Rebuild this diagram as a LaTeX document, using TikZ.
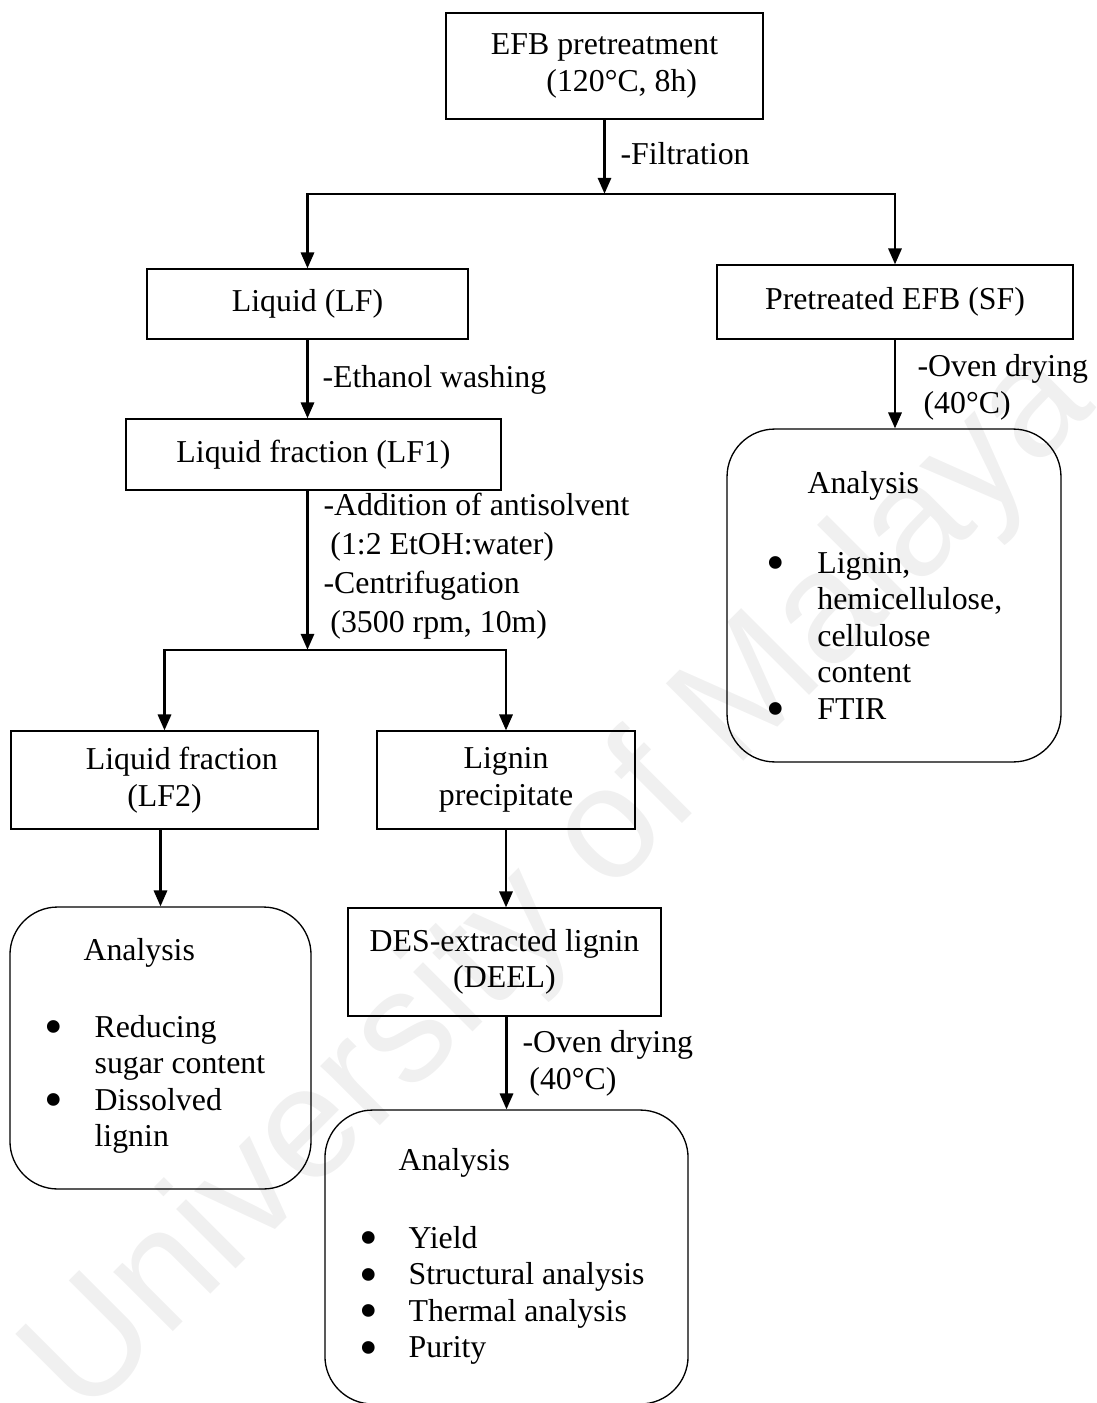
\documentclass[tikz,border=0pt]{standalone}
\usepackage{fontspec}
\setmainfont{Liberation Serif}
\newfontfamily\wmfont{Liberation Sans}
\usetikzlibrary{arrows.meta}
\newcommand{\bigbul}{\raisebox{-2.8pt}{\fontsize{20}{13.8}\selectfont\textbullet}}

\begin{document}
\begin{tikzpicture}[x=0.377pt, y=-0.377pt,
  every node/.style={font=\fontsize{12}{13.8}\selectfont},
  box/.style={draw, line width=0.5pt, inner sep=0pt, align=center},
  anbox/.style={draw, line width=0.5pt, rounded corners=18pt, inner sep=0pt},
  txt/.style={anchor=base west, inner sep=0pt},
  arr/.style={line width=0.9pt, -{Triangle[length=6pt,width=5pt]}},
  darr/.style={line width=0.9pt, {Triangle[length=6pt,width=5pt]}-{Triangle[length=6pt,width=5pt]}}]
  \useasboundingbox (0,0) rectangle (1096,1403);
  % Watermark
  \node[rotate=45, text=black!6, font=\wmfont\fontsize{60}{60}\selectfont] (wmark) at (562,885) {University of Malaya};
  % Process boxes
  \node[box, minimum width=119.5pt, minimum height=40pt] (efb) at (604.5,66) {EFB pretreatment\\\hspace*{13pt}(120°C, 8h)};
  \node[box, minimum width=121pt, minimum height=26.4pt] (lf) at (307.5,304) {Liquid (LF)};
  \node[box, minimum width=134.2pt, minimum height=27.9pt] (sf) at (895,302) {Pretreated EFB (SF)};
  \node[box, minimum width=141.4pt, minimum height=26.8pt] (lf1) at (313.5,454.5) {Liquid fraction (LF1)};
  \node[box, minimum width=115.7pt, minimum height=36.9pt] (lf2) at (164.5,780) {\hspace*{13pt}Liquid fraction\\(LF2)};
  \node[box, minimum width=97.3pt, minimum height=36.9pt] (lp) at (506,780) {Lignin\\precipitate};
  \node[box, minimum width=118pt, minimum height=40.7pt] (deel) at (504.5,962) {DES-extracted lignin\\(DEEL)};
  % Analysis boxes
  \node[anbox, minimum width=125.9pt, minimum height=125.5pt] (ansf) at (894,595.5) {};
  \node[anbox, minimum width=113.5pt, minimum height=106.3pt] (anlf) at (160.5,1048) {};
  \node[anbox, minimum width=136.9pt, minimum height=110.8pt] (andeel) at (506.5,1257) {};
  \node[txt] (ansfhd) at (807,493) {Analysis};
  \node[txt] (ansfls) at (765.7,573) {\begin{tabular}[t]{@{}p{19.3pt}@{}l@{}}
    \bigbul & Lignin,\\ & hemicellulose,\\ & cellulose\\ & content\\ \bigbul & FTIR\end{tabular}};
  \node[txt] (anlfhd) at (83,960) {Analysis};
  \node[txt] (anlfls) at (43.7,1037) {\begin{tabular}[t]{@{}p{19pt}@{}l@{}}
    \bigbul & Reducing\\ & sugar content\\ \bigbul & Dissolved\\ & lignin\end{tabular}};
  \node[txt] (andeelhd) at (398,1170) {Analysis};
  \node[txt] (andeells) at (358.7,1248) {\begin{tabular}[t]{@{}p{18.6pt}@{}l@{}}
    \bigbul & Yield\\ \bigbul & Structural analysis\\ \bigbul & Thermal analysis\\ \bigbul & Purity\end{tabular}};
  % Step labels (multi-line ones sit on their last baseline)
  \node[txt] (lblfilt) at (620,165) {-Filtration};
  \node[txt] (lbleth) at (322,388) {-Ethanol washing};
  \node[txt, align=left, font=\fontsize{12}{14.6}\selectfont] (lbladd) at (323,632)
    {-Addition of antisolvent\\\hspace*{2.6pt}(1:2 EtOH:water)\\-Centrifugation\\\hspace*{2.6pt}(3500 rpm, 10m)};
  \node[txt, align=left] (lblovsf) at (917,413) {-Oven drying\\\hspace*{2.3pt}(40°C)};
  \node[txt, align=left] (lblovdl) at (522,1089) {-Oven drying\\\hspace*{2.6pt}(40°C)};
  % Connectors
  \draw[arr] (efb.south) -- ++(0,74) coordinate (s1);
  \draw[darr] (lf.north) -- (lf.north |- s1) -- (sf.north |- s1) -- (sf.north);
  \draw[arr] (lf.south) -- (lf.south |- lf1.north);
  \draw[arr] (lf.south |- lf1.south) -- ++(0,159) coordinate (s2);
  \draw[darr] (lf2.north) -- (lf2.north |- s2) -- (lp.north |- s2) -- (lp.north);
  \draw[arr] (sf.south) -- (sf.south |- ansf.north);
  \draw[arr] (anlf.north |- lf2.south) -- (anlf.north);
  \draw[arr] (lp.south) -- (lp.south |- deel.north);
  \draw[arr] (andeel.north |- deel.south) -- (andeel.north);
\end{tikzpicture}
\end{document}
